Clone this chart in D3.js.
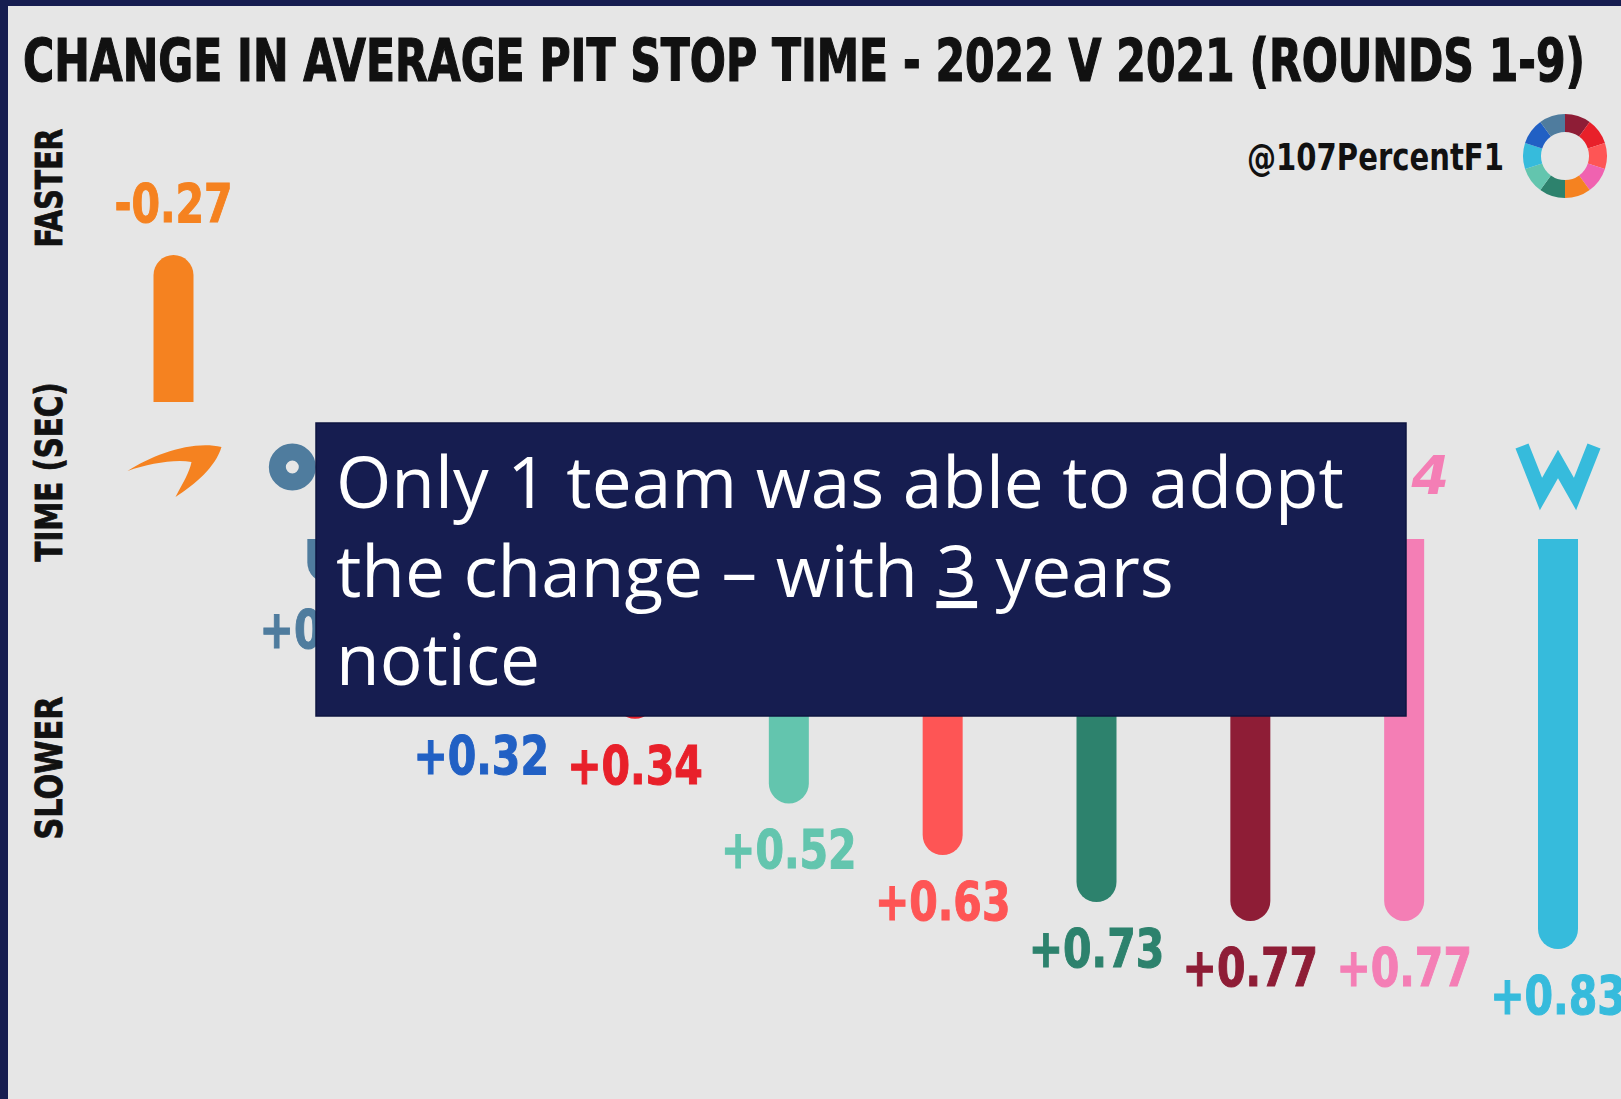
<!DOCTYPE html>
<html>
<head>
<meta charset="utf-8">
<script src="https://cdn.jsdelivr.net/npm/d3@7"></script>
<style>
  body { margin: 0; background: #e6e6e6; }
  svg { display: block; }
</style>
</head>
<body>
<svg id="chart" width="1621" height="1099"></svg>
<script>
const teams = ["McLaren", "AlphaTauri", "Red Bull", "Ferrari", "Mercedes", "Haas", "Aston Martin", "Alfa Romeo", "Alpine", "Williams"]
const changes = [-0.27, 0.05, 0.32, 0.34, 0.52, 0.63, 0.73, 0.77, 0.77, 0.83]
const teamColors = ["#f58220", "#4f7c9e", "#2160c4", "#e8202a", "#63c5ae", "#fe5555", "#2d826d", "#8e1d36", "#f47eb5", "#36bbdc"]

// ring logo, clockwise from 12 o'clock
const ringColors = ["#8e1d36", "#e8202a", "#fe5555", "#f062b0", "#f58220", "#2d826d", "#63c5ae", "#36bbdc", "#2160c4", "#4f7c9e"]

const title = "CHANGE IN AVERAGE PIT STOP TIME - 2022 V 2021 (ROUNDS 1-9)"
const sideLabels = [
  { text: "FASTER", y: 188, len: 119 },
  { text: "TIME (SEC)", y: 472, len: 179 },
  { text: "SLOWER", y: 768, len: 143 }
]
const handle = "@107PercentF1"
const noteLines = ["Only 1 team was able to adopt", "the change \u2013 with |3| years", "notice"]

const navy = "#161d50"
const condensed = "'DejaVu Sans Condensed', 'DejaVu Sans', sans-serif"

const svg = d3.select("#chart")

// frame
svg.append("rect").attr("width", 1621).attr("height", 1099).attr("fill", "#e6e6e6")
svg.append("rect").attr("width", 1621).attr("height", 6).attr("fill", navy)
svg.append("rect").attr("width", 8).attr("height", 1099).attr("fill", navy)

svg.append("text")
  .attr("x", 23).attr("y", 81)
  .attr("font-family", condensed)
  .attr("font-weight", "bold")
  .attr("font-size", 59)
  .attr("fill", "#111")
  .attr("stroke", "#111")
  .attr("stroke-width", 1.2)
  .attr("textLength", 1562)
  .attr("lengthAdjust", "spacingAndGlyphs")
  .text(title)

svg.selectAll(".side")
  .data(sideLabels)
  .enter()
  .append("text")
  .classed("side", true)
  .attr("transform", d => `translate(62,${d.y}) rotate(-90)`)
  .attr("text-anchor", "middle")
  .attr("font-family", condensed)
  .attr("font-weight", "bold")
  .attr("font-size", 37)
  .attr("fill", "#111")
  .attr("stroke", "#111")
  .attr("stroke-width", 0.8)
  .attr("textLength", d => d.len)
  .attr("lengthAdjust", "spacingAndGlyphs")
  .text(d => d.text)

// watermark + ring
svg.append("text")
  .attr("x", 1247).attr("y", 170)
  .attr("font-family", "'DejaVu Sans', sans-serif")
  .attr("font-weight", "bold")
  .attr("font-size", 37)
  .attr("fill", "#111")
  .attr("textLength", 257)
  .attr("lengthAdjust", "spacingAndGlyphs")
  .text(handle)

const pie = d3.pie().sort(null).value(1)
const ringArc = d3.arc().innerRadius(24).outerRadius(42)
svg.append("g")
  .attr("transform", "translate(1565,156)")
  .selectAll("path")
  .data(pie(ringColors))
  .enter()
  .append("path")
  .attr("d", ringArc)
  .attr("fill", d => d.data)

// scales
const xScale = d3.scalePoint().domain(teams).range([173.5, 1558])
const lenScale = d3.scaleLinear().domain([0, 1]).range([0, 470])
const upBase = 402
const downBase = 539
const r = 20

const tipOf = v => v < 0 ? upBase - lenScale(-v) - r : downBase + lenScale(v) + r

const barPath = (v, x) => {
  if (v < 0) {
    const end = upBase - lenScale(-v)
    return `M${x - r},${upBase} L${x - r},${end} A${r},${r} 0 0 1 ${x + r},${end} L${x + r},${upBase} Z`
  }
  const end = downBase + lenScale(v)
  return `M${x - r},${downBase} L${x - r},${end} A${r},${r} 0 0 0 ${x + r},${end} L${x + r},${downBase} Z`
}

const data = teams.map((t, i) => ({ team: t, value: changes[i], color: teamColors[i] }))

svg.selectAll(".bar")
  .data(data)
  .enter()
  .append("path")
  .classed("bar", true)
  .attr("d", d => barPath(d.value, xScale(d.team)))
  .attr("fill", d => d.color)

const fmt = v => (v < 0 ? "-" : "+") + Math.abs(v).toFixed(2)

svg.selectAll(".valueLabel")
  .data(data)
  .enter()
  .append("text")
  .classed("valueLabel", true)
  .attr("x", d => xScale(d.team))
  .attr("y", d => d.value < 0 ? tipOf(d.value) - 33 : tipOf(d.value) + 65)
  .attr("text-anchor", "middle")
  .attr("font-family", condensed)
  .attr("font-weight", "bold")
  .attr("font-size", 53)
  .attr("fill", d => d.color)
  .attr("stroke", d => d.color)
  .attr("stroke-width", 1)
  .text(d => fmt(d.value))
  .each(function () {
    const w = this.getComputedTextLength()
    d3.select(this).attr("textLength", w * 0.86).attr("lengthAdjust", "spacingAndGlyphs")
  })

// team marks in the logo row
const logoY = 470
const logos = svg.append("g")

logos.append("path")
  .attr("transform", `translate(${xScale("McLaren")},${logoY})`)
  .attr("d", "M-46,1 C-20,-16 20,-30 48,-23 C42,-3 22,14 2,27 C10,12 16,2 18,-8 C0,-11 -25,-6 -46,1 Z")
  .attr("fill", teamColors[0])

logos.append("circle")
  .attr("cx", xScale("AlphaTauri") - 35)
  .attr("cy", logoY - 3)
  .attr("r", 15)
  .attr("fill", "none")
  .attr("stroke", teamColors[1])
  .attr("stroke-width", 17)

logos.append("text")
  .attr("x", xScale("Alpine") + 26)
  .attr("y", logoY + 24)
  .attr("text-anchor", "middle")
  .attr("font-family", "'DejaVu Sans', sans-serif")
  .attr("font-style", "italic")
  .attr("font-weight", "bold")
  .attr("font-size", 54)
  .attr("fill", teamColors[8])
  .text("4")

logos.append("path")
  .attr("transform", `translate(${xScale("Williams")},${logoY})`)
  .attr("d", "M-36,-24 L-17,24 L0,-6 L17,24 L36,-24")
  .attr("fill", "none")
  .attr("stroke", teamColors[9])
  .attr("stroke-width", 14)
  .attr("stroke-linejoin", "miter")

// overlay note
svg.append("rect")
  .attr("x", 316).attr("y", 423)
  .attr("width", 1090).attr("height", 293)
  .attr("fill", navy)
  .attr("stroke", "#0e1440")
  .attr("stroke-width", 1.5)

const note = svg.append("g")
  .attr("font-family", "'Open Sans', 'Noto Sans', sans-serif")
  .attr("fill", "#fff")
  .attr("font-size", 70)

const baselines = [508, 597, 685]
noteLines.forEach((line, i) => {
  const t = note.append("text").attr("x", 336).attr("y", baselines[i])
  line.split("|").forEach((part, j) => {
    const span = t.append("tspan").text(part)
    if (j === 1) span.style("text-decoration", "underline")
  })
})

const first = note.select("text").node().getComputedTextLength()
note.attr("font-size", 70 * 1008 / first)
</script>
</body>
</html>
